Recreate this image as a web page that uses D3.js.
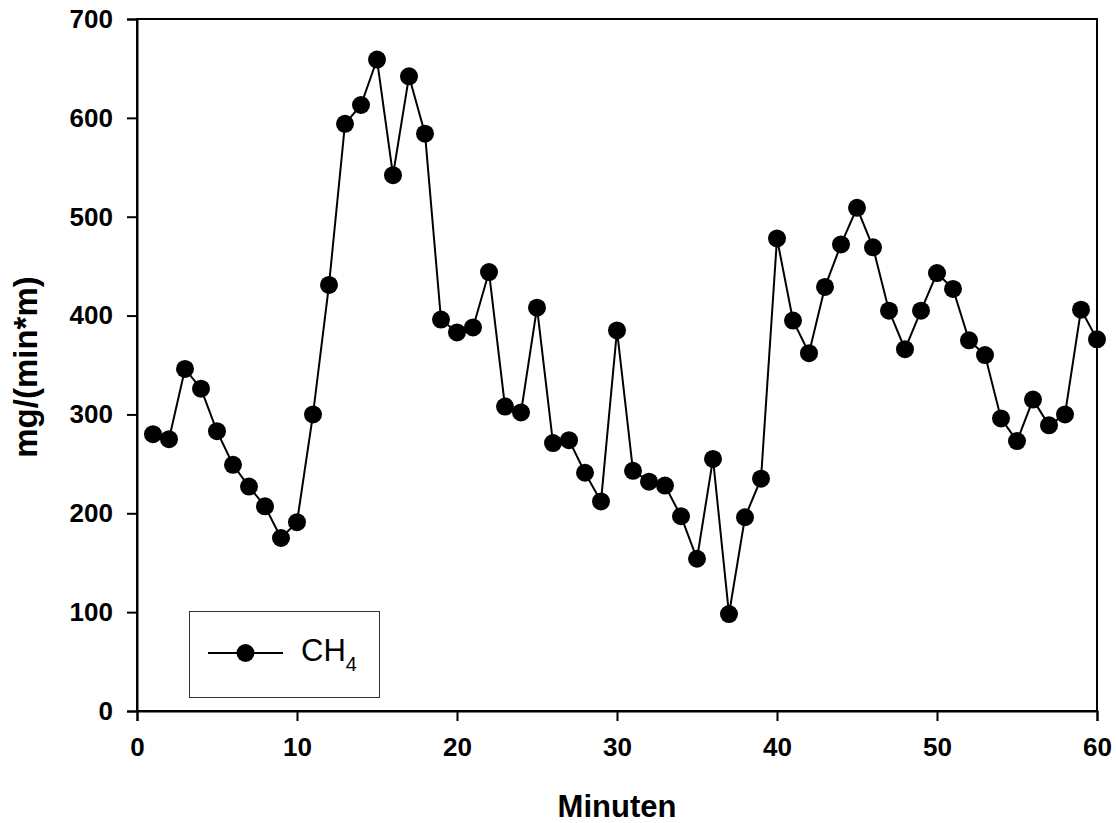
<!DOCTYPE html>
<html>
<head>
<meta charset="utf-8">
<script src="https://cdn.jsdelivr.net/npm/d3@7"></script>
<style>
  html, body { margin: 0; padding: 0; background: #fff; }
  svg { display: block; }
</style>
</head>
<body>
<svg id="chart" width="1116" height="823"></svg>
<script>
const minutes = [1,2,3,4,5,6,7,8,9,10,11,12,13,14,15,16,17,18,19,20,21,22,23,24,25,26,27,28,29,30,31,32,33,34,35,36,37,38,39,40,41,42,43,44,45,46,47,48,49,50,51,52,53,54,55,56,57,58,59,60];
const ch4 = [280,275,346,326,283,249,227,207,175,191,300,431,594,613,659,542,642,584,396,383,388,444,308,302,408,271,274,241,212,385,243,232,228,197,154,255,98,196,235,478,395,362,429,472,509,469,405,366,405,443,427,375,360,296,273,315,289,300,406,376];
const xTicks = [0,10,20,30,40,50,60];
const yTicks = [0,100,200,300,400,500,600,700];
const xTitle = "Minuten";
const yTitle = "mg/(min*m)";
const seriesName = "CH";
const seriesSub = "4";

const svg = d3.select("#chart");
const margin = {left: 137, right: 1116 - 1097, top: 19, bottom: 823 - 711};
const W = 1116, H = 823;

const x = d3.scaleLinear().domain([0, 60]).range([margin.left, W - margin.right]);
const y = d3.scaleLinear().domain([0, 700]).range([H - margin.bottom, margin.top]);

const font = "Arial, 'Liberation Sans', Helvetica, sans-serif";

// frame (top and right)
svg.append("rect")
  .attr("x", x(0)).attr("y", y(700))
  .attr("width", x(60) - x(0)).attr("height", y(0) - y(700))
  .attr("fill", "none").attr("stroke", "#000").attr("stroke-width", 2);

// x axis
const gx = svg.append("g")
  .attr("transform", `translate(0,${y(0)})`)
  .call(d3.axisBottom(x).tickValues(xTicks).tickSize(10).tickPadding(17).tickFormat(d3.format("d")));
gx.select(".domain").attr("stroke-width", 2);
gx.selectAll(".tick line").attr("stroke-width", 2);
gx.selectAll("text").attr("font-family", font).attr("font-size", 26).attr("font-weight", "bold").attr("fill", "#000");

// y axis
const gy = svg.append("g")
  .attr("transform", `translate(${x(0)},0)`)
  .call(d3.axisLeft(y).tickValues(yTicks).tickSize(10).tickPadding(14).tickFormat(d3.format("d")));
gy.select(".domain").attr("stroke-width", 2);
gy.selectAll(".tick line").attr("stroke-width", 2);
gy.selectAll("text").attr("font-family", font).attr("font-size", 26).attr("font-weight", "bold").attr("fill", "#000");

// axis titles
svg.append("text")
  .attr("x", (x(0) + x(60)) / 2).attr("y", 817)
  .attr("text-anchor", "middle")
  .attr("font-family", font).attr("font-size", 31).attr("font-weight", "bold")
  .text(xTitle);

svg.append("text")
  .attr("transform", `translate(37,${(y(0) + y(700)) / 2 + 2}) rotate(-90)`)
  .attr("text-anchor", "middle")
  .attr("font-family", font).attr("font-size", 33).attr("font-weight", "bold")
  .text(yTitle);

// series
const data = minutes.map((m, i) => ({m, v: ch4[i]}));
const line = d3.line().x(d => x(d.m)).y(d => y(d.v));
svg.append("path").datum(data)
  .attr("d", line).attr("fill", "none").attr("stroke", "#000").attr("stroke-width", 2);
svg.append("g").selectAll("circle").data(data).join("circle")
  .attr("cx", d => x(d.m)).attr("cy", d => y(d.v)).attr("r", 9).attr("fill", "#000");

// legend
const lg = svg.append("g");
lg.append("rect").attr("x", 189.5).attr("y", 611.5).attr("width", 190).attr("height", 86)
  .attr("fill", "#fff").attr("stroke", "#333").attr("stroke-width", 1);
lg.append("line").attr("x1", 208).attr("x2", 283).attr("y1", 653).attr("y2", 653)
  .attr("stroke", "#000").attr("stroke-width", 2);
lg.append("circle").attr("cx", 245.5).attr("cy", 653).attr("r", 9).attr("fill", "#000");
const lt = lg.append("text").attr("x", 301).attr("y", 661)
  .attr("font-family", font).attr("font-size", 31).attr("fill", "#000");
lt.append("tspan").text(seriesName);
lt.append("tspan").attr("font-size", 20).attr("dy", 10).text(seriesSub);
</script>
</body>
</html>
